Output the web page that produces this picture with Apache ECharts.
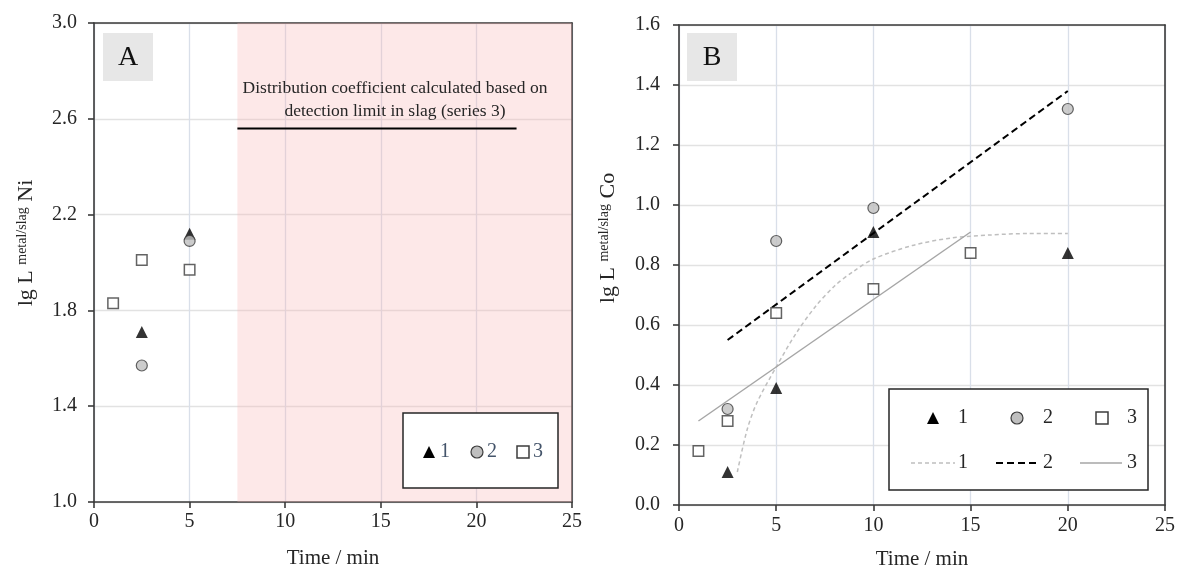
<!DOCTYPE html>
<html>
<head>
<meta charset="utf-8">
<script src="https://cdn.jsdelivr.net/npm/echarts@6/dist/echarts.min.js"></script>
<style>
  html, body { margin: 0; padding: 0; background: #ffffff; }
  #chart { width: 1178px; height: 572px; }
</style>
</head>
<body>
<div id="chart"></div>
<script>
// ---- Panel A: lg L(metal/slag) Ni versus time ----
const niSeries1 = [[2.5, 1.71], [5, 2.12]];
const niSeries2 = [[2.5, 1.57], [5, 2.09]];
const niSeries3 = [[1, 1.83], [2.5, 2.01], [5, 1.97]];
const slagLimitRange = [7.5, 25];                 // time span where slag Ni is below detection
const slagLimitLine = [[7.5, 2.56], [22.1, 2.56]];
const slagLimitNote = 'Distribution coefficient calculated based on\ndetection limit in slag (series 3)';

// ---- Panel B: lg L(metal/slag) Co versus time ----
const coSeries1 = [[2.5, 0.11], [5, 0.39], [10, 0.91], [20, 0.84]];
const coSeries2 = [[2.5, 0.32], [5, 0.88], [10, 0.99], [20, 1.32]];
const coSeries3 = [[1, 0.18], [2.5, 0.28], [5, 0.64], [10, 0.72], [15, 0.84]];
const coFit1 = [[3, 0.11], [3.5, 0.25], [4, 0.34], [5, 0.46], [6, 0.57], [7, 0.66], [8, 0.73],
                [9, 0.78], [10, 0.82], [12, 0.865], [14, 0.89], [16, 0.90], [18, 0.905], [20, 0.905]];
const coFit2 = [[2.5, 0.55], [20, 1.38]];
const coFit3 = [[1, 0.28], [15, 0.91]];

// ---- Axis ranges [min, max, interval] ----
const timeRange = [0, 25, 5];
const niRange = [1.0, 3.0, 0.4];
const coRange = [0, 1.6, 0.2];
const legendLabels = ['1', '2', '3'];

const FONT = 'Liberation Serif';
const INK = '#262626';
const AXIS = '#3a3a3a';
const CIRCLE_FILL = '#bfbfbf';
const EDGE = '#3c3c3c';
const TOP_Z = 100;

const chart = echarts.init(document.getElementById('chart'), null, { renderer: 'canvas' });

function mainAxis(gridIndex, range, isX, labelMargin, extra) {
  return Object.assign({
    type: 'value',
    gridIndex,
    min: range[0], max: range[1], interval: range[2],
    axisLine: { show: true, onZero: false, lineStyle: { color: AXIS, width: 1.6 } },
    axisTick: { show: true, inside: false, length: 6, lineStyle: { color: AXIS, width: 1.6 } },
    axisLabel: {
      fontFamily: FONT, fontSize: 20, color: INK, margin: labelMargin,
      formatter: v => isX ? String(Math.round(v)) : v.toFixed(1)
    },
    splitLine: { show: true, lineStyle: { color: isX ? '#d9dfe9' : '#e2e2e2', width: 1.3 } }
  }, extra || {});
}

function frameAxis(gridIndex, range, position) {
  return {
    type: 'value', gridIndex, position,
    min: range[0], max: range[1], interval: range[2],
    axisLine: { show: true, onZero: false, lineStyle: { color: AXIS, width: 1.6 } },
    axisTick: { show: false }, axisLabel: { show: false }, splitLine: { show: false }
  };
}

function yName(element) {
  return '{a|lg L }{b|metal/slag}{a| ' + element + '}';
}
const yNameRich = {
  a: { fontFamily: FONT, fontSize: 22, color: INK },
  b: { fontFamily: FONT, fontSize: 14, color: INK, verticalAlign: 'top' }
};
const xNameStyle = { fontFamily: FONT, fontSize: 21, color: INK };

const triangleStyle = { color: '#000000' };
const circleStyle = { color: CIRCLE_FILL, borderColor: EDGE, borderWidth: 1.2 };
const squareStyle = { color: '#ffffff', borderColor: EDGE, borderWidth: 1.5 };

function scatter(name, data, axis, symbol, size, style) {
  return {
    name, type: 'scatter', data, symbol, symbolSize: size,
    xAxisIndex: axis, yAxisIndex: axis, itemStyle: style, z: 4,
    emphasis: { disabled: true }
  };
}
function fitLine(name, data, color, type, width, smooth) {
  return {
    name, type: 'line', data, xAxisIndex: 2, yAxisIndex: 2,
    symbol: 'none', smooth: smooth || false,
    lineStyle: { color, type, width }, z: 3, silent: true
  };
}

// ---- Graphic helpers: legend keys, panel tags ----
function markerKey(kind, cx, cy) {
  const s = 6;
  if (kind === 'triangle') {
    return { type: 'polygon', z: TOP_Z + 1, shape: { points: [[cx, cy - s], [cx + s, cy + s], [cx - s, cy + s]] }, style: { fill: '#000' } };
  }
  if (kind === 'circle') {
    return { type: 'circle', z: TOP_Z + 1, shape: { cx, cy, r: s }, style: { fill: CIRCLE_FILL, stroke: EDGE, lineWidth: 1.2 } };
  }
  return { type: 'rect', z: TOP_Z + 1, shape: { x: cx - s, y: cy - s, width: 2 * s, height: 2 * s }, style: { fill: '#fff', stroke: EDGE, lineWidth: 1.5 } };
}
function lineKey(x1, x2, y, color, dash, width) {
  return { type: 'line', z: TOP_Z + 1, shape: { x1, y1: y, x2, y2: y }, style: { stroke: color, lineWidth: width, lineDash: dash } };
}
function keyText(text, x, y, color) {
  return { type: 'text', z: TOP_Z + 1, style: { text, x, y, fontFamily: FONT, fontSize: 20, fill: color, align: 'left', verticalAlign: 'middle' } };
}
function box(x, y, w, h) {
  return { type: 'rect', z: TOP_Z, shape: { x, y, width: w, height: h }, style: { fill: '#fff', stroke: '#262626', lineWidth: 1.5 } };
}
function panelTag(label, x, y) {
  return [
    { type: 'rect', z: TOP_Z, shape: { x, y, width: 50, height: 48 }, style: { fill: '#e7e7e7' } },
    { type: 'text', z: TOP_Z + 1, style: { text: label, x: x + 25, y: y + 25, fontFamily: FONT, fontSize: 28, fill: '#111', align: 'center', verticalAlign: 'middle' } }
  ];
}

const legendA = [
  box(403, 413, 155, 75),
  markerKey('triangle', 429, 452), keyText(legendLabels[0], 440, 452, '#44546a'),
  markerKey('circle', 477, 452), keyText(legendLabels[1], 487, 452, '#44546a'),
  markerKey('square', 523, 452), keyText(legendLabels[2], 533, 452, '#44546a')
];
const legendB = [
  box(889, 389, 259, 101),
  markerKey('triangle', 933, 418), keyText(legendLabels[0], 958, 418, INK),
  markerKey('circle', 1017, 418), keyText(legendLabels[1], 1043, 418, INK),
  markerKey('square', 1102, 418), keyText(legendLabels[2], 1127, 418, INK),
  lineKey(911, 955, 463, '#bfbfbf', [4, 3], 1.5), keyText(legendLabels[0], 958, 463, INK),
  lineKey(996, 1037, 463, '#000000', [7, 4], 2), keyText(legendLabels[1], 1043, 463, INK),
  lineKey(1080, 1122, 463, '#a6a6a6', null, 1.5), keyText(legendLabels[2], 1127, 463, INK)
];
const noteText = {
  type: 'text', z: TOP_Z + 1,
  style: { text: slagLimitNote, x: 395, y: 100, align: 'center', verticalAlign: 'middle',
           fontFamily: FONT, fontSize: 17.5, lineHeight: 23.5, fill: INK }
};

const option = {
  animation: false,
  backgroundColor: '#ffffff',
  grid: [
    { left: 94, top: 23, width: 478, height: 479, outerBoundsMode: 'none', containLabel: false },
    { left: 679, top: 25, width: 486, height: 480, outerBoundsMode: 'none', containLabel: false }
  ],
  xAxis: [
    mainAxis(0, timeRange, true, 10, { name: 'Time / min', nameLocation: 'middle', nameGap: 46, nameTextStyle: xNameStyle }),
    frameAxis(0, timeRange, 'top'),
    mainAxis(1, timeRange, true, 11, { name: 'Time / min', nameLocation: 'middle', nameGap: 44, nameTextStyle: xNameStyle }),
    frameAxis(1, timeRange, 'top')
  ],
  yAxis: [
    mainAxis(0, niRange, false, 17, {
      name: yName('Ni'), nameLocation: 'middle', nameRotate: 90, nameGap: 57,
      nameTextStyle: { rich: yNameRich, padding: [0, 0, 0, 39] }
    }),
    frameAxis(0, niRange, 'right'),
    mainAxis(1, coRange, false, 19, {
      name: yName('Co'), nameLocation: 'middle', nameRotate: 90, nameGap: 60,
      nameTextStyle: { rich: yNameRich, padding: [0, 0, 0, 54] }
    }),
    frameAxis(1, coRange, 'right')
  ],
  series: [
    Object.assign(scatter('Ni 1', niSeries1, 0, 'triangle', 12, triangleStyle), {
      markArea: {
        silent: true, z: 1,
        itemStyle: { color: 'rgba(248, 180, 180, 0.3)' },
        data: [[{ xAxis: slagLimitRange[0] }, { xAxis: slagLimitRange[1] }]]
      }
    }),
    scatter('Ni 2', niSeries2, 0, 'circle', 11, circleStyle),
    scatter('Ni 3', niSeries3, 0, 'rect', 10.5, squareStyle),
    {
      name: 'Ni limit', type: 'line', data: slagLimitLine, xAxisIndex: 0, yAxisIndex: 0,
      symbol: 'none', lineStyle: { color: '#000', width: 2 }, z: 3, silent: true
    },
    fitLine('Co fit 1', coFit1, '#bfbfbf', [4, 3], 1.5, 0.3),
    fitLine('Co fit 2', coFit2, '#000000', [7, 4], 2),
    fitLine('Co fit 3', coFit3, '#a6a6a6', 'solid', 1.5),
    scatter('Co 1', coSeries1, 2, 'triangle', 12, triangleStyle),
    scatter('Co 2', coSeries2, 2, 'circle', 11, circleStyle),
    scatter('Co 3', coSeries3, 2, 'rect', 10.5, squareStyle)
  ],
  graphic: {
    z: TOP_Z,
    elements: [].concat(panelTag('A', 103, 33), panelTag('B', 687, 33), [noteText], legendA, legendB)
  }
};

chart.setOption(option);
</script>
</body>
</html>
